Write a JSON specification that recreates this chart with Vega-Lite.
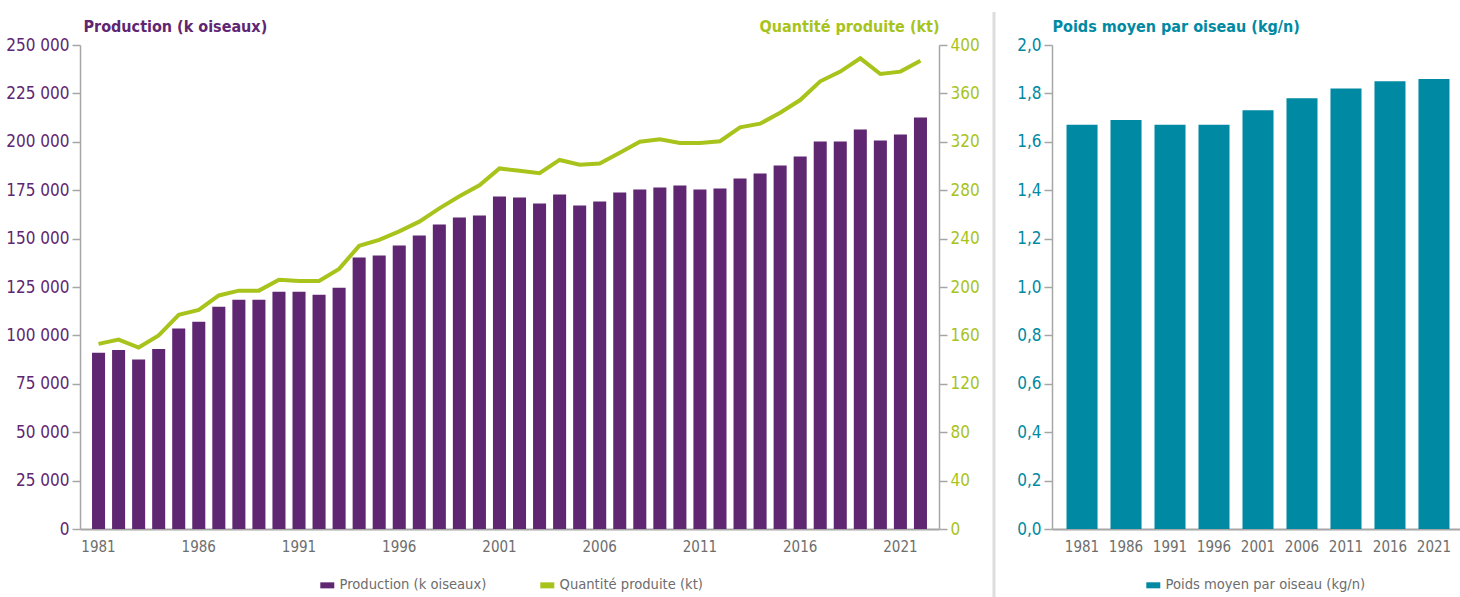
{
  "$schema": "https://vega.github.io/schema/vega-lite/v6.json",
  "padding": {"left": 5, "top": 10, "right": 0, "bottom": 0},
  "datasets": {
    "prod": [
      {"year": 1981, "production": 91000, "quantite": 153},
      {"year": 1982, "production": 92500, "quantite": 156.5},
      {"year": 1983, "production": 87500, "quantite": 150},
      {"year": 1984, "production": 93000, "quantite": 160},
      {"year": 1985, "production": 103500, "quantite": 177},
      {"year": 1986, "production": 107000, "quantite": 181},
      {"year": 1987, "production": 114800, "quantite": 193},
      {"year": 1988, "production": 118400, "quantite": 197},
      {"year": 1989, "production": 118400, "quantite": 197},
      {"year": 1990, "production": 122600, "quantite": 206},
      {"year": 1991, "production": 122600, "quantite": 205},
      {"year": 1992, "production": 121000, "quantite": 205},
      {"year": 1993, "production": 124600, "quantite": 215},
      {"year": 1994, "production": 140200, "quantite": 234},
      {"year": 1995, "production": 141300, "quantite": 239},
      {"year": 1996, "production": 146400, "quantite": 246},
      {"year": 1997, "production": 151600, "quantite": 254},
      {"year": 1998, "production": 157300, "quantite": 265},
      {"year": 1999, "production": 160900, "quantite": 275},
      {"year": 2000, "production": 161900, "quantite": 284},
      {"year": 2001, "production": 171700, "quantite": 298},
      {"year": 2002, "production": 171200, "quantite": 296},
      {"year": 2003, "production": 168100, "quantite": 294},
      {"year": 2004, "production": 172800, "quantite": 305},
      {"year": 2005, "production": 167100, "quantite": 301},
      {"year": 2006, "production": 169100, "quantite": 302},
      {"year": 2007, "production": 173800, "quantite": 311},
      {"year": 2008, "production": 175400, "quantite": 320},
      {"year": 2009, "production": 176400, "quantite": 322},
      {"year": 2010, "production": 177400, "quantite": 319},
      {"year": 2011, "production": 175400, "quantite": 319},
      {"year": 2012, "production": 175900, "quantite": 320.5},
      {"year": 2013, "production": 181000, "quantite": 332},
      {"year": 2014, "production": 183600, "quantite": 335},
      {"year": 2015, "production": 187800, "quantite": 344},
      {"year": 2016, "production": 192400, "quantite": 354.5},
      {"year": 2017, "production": 200200, "quantite": 370},
      {"year": 2018, "production": 200200, "quantite": 378},
      {"year": 2019, "production": 206400, "quantite": 389},
      {"year": 2020, "production": 200700, "quantite": 376},
      {"year": 2021, "production": 203800, "quantite": 378},
      {"year": 2022, "production": 212600, "quantite": 387}
    ],
    "poids": [
      {"year": 1981, "poids": 1.67},
      {"year": 1986, "poids": 1.69},
      {"year": 1991, "poids": 1.67},
      {"year": 1996, "poids": 1.67},
      {"year": 2001, "poids": 1.73},
      {"year": 2006, "poids": 1.78},
      {"year": 2011, "poids": 1.82},
      {"year": 2016, "poids": 1.85},
      {"year": 2021, "poids": 1.86}
    ],
    "divider": [{"p": 0, "a": 0, "b": 106}]
  },
  "hconcat": [
    {
      "width": 859,
      "height": 484,
      "data": {"name": "prod"},
      "encoding": {
        "x": {
          "field": "year", "type": "ordinal",
          "scale": {"paddingInner": 0.35, "paddingOuter": 0.6},
          "axis": {
            "title": null, "values": [1981, 1986, 1991, 1996, 2001, 2006, 2011, 2016, 2021],
            "labelAngle": 0, "ticks": false, "labelPadding": 10, "labelColor": "#6d6d6d",
            "labelFontSize": 15, "domainWidth": 2
          }
        }
      },
      "layer": [
        {
          "mark": {"type": "bar"},
          "encoding": {
            "y": {
              "field": "production", "type": "quantitative",
              "scale": {"domain": [0, 250000]},
              "axis": {
                "orient": "left", "format": ",d",
                "values": [0, 25000, 50000, 75000, 100000, 125000, 150000, 175000, 200000, 225000, 250000],
                "labelColor": "#5f2672", "labelFontSize": 17,
                "title": "Production (k oiseaux)", "titleAngle": 0, "titleAlign": "left",
                "titleBaseline": "alphabetic", "titleX": 3, "titleY": -14,
                "titleColor": "#5f2672", "titleFontSize": 16, "titleFontWeight": "bold"
              }
            },
            "color": {
              "datum": "Production (k oiseaux)",
              "scale": {"domain": ["Production (k oiseaux)", "Quantité produite (kt)"], "range": ["#5f2672", "#a8c31b"]},
              "legend": {
                "orient": "none", "legendX": 240, "legendY": 533, "direction": "horizontal",
                "title": null, "symbolType": "M-1,-0.43H1V0.43H-1Z", "symbolSize": 196,
                "symbolStrokeWidth": 0, "labelFontSize": 14.6, "labelColor": "#6d6d6d",
                "columnPadding": 53, "labelOffset": 5, "labelLimit": 300
              }
            }
          }
        },
        {
          "mark": {"type": "line", "strokeWidth": 4},
          "encoding": {
            "y": {
              "field": "quantite", "type": "quantitative",
              "scale": {"domain": [0, 400]},
              "axis": {
                "orient": "right",
                "values": [0, 40, 80, 120, 160, 200, 240, 280, 320, 360, 400],
                "labelColor": "#a8c31b", "labelFontSize": 17,
                "title": "Quantité produite (kt)", "titleAngle": 0, "titleAlign": "right",
                "titleBaseline": "alphabetic", "titleX": 0, "titleY": -14,
                "titleColor": "#a8c31b", "titleFontSize": 16, "titleFontWeight": "bold"
              }
            },
            "color": {"datum": "Quantité produite (kt)"}
          }
        }
      ],
      "resolve": {"scale": {"y": "independent"}}
    },
    {
      "width": 10,
      "height": 552,
      "data": {"name": "divider"},
      "mark": {"type": "rule", "color": "#dddddd", "strokeWidth": 3},
      "encoding": {
        "x": {"field": "p", "type": "quantitative", "scale": {"domain": [0, 1]}, "axis": null},
        "y": {"field": "a", "type": "quantitative", "scale": {"domain": [0, 100]}, "axis": null},
        "y2": {"field": "b"}
      }
    },
    {
      "width": 412,
      "height": 484,
      "data": {"name": "poids"},
      "mark": {"type": "bar"},
      "encoding": {
        "x": {
          "field": "year", "type": "ordinal",
          "scale": {"paddingInner": 0.295, "paddingOuter": 0.33, "align": 0.5},
          "axis": {"title": null, "labelAngle": 0, "ticks": false, "labelPadding": 10,
                   "labelColor": "#6d6d6d", "labelFontSize": 15, "domainWidth": 2}
        },
        "y": {
          "field": "poids", "type": "quantitative",
          "scale": {"domain": [0, 2]},
          "axis": {
            "format": ".1f", "values": [0, 0.2, 0.4, 0.6, 0.8, 1.0, 1.2, 1.4, 1.6, 1.8, 2.0],
            "labelColor": "#0089a2", "labelFontSize": 17,
            "title": "Poids moyen par oiseau (kg/n)", "titleAngle": 0, "titleAlign": "left",
            "titleBaseline": "alphabetic", "titleX": 0, "titleY": -14,
            "titleColor": "#0089a2", "titleFontSize": 16, "titleFontWeight": "bold"
          }
        },
        "color": {
          "datum": "Poids moyen par oiseau (kg/n)",
          "scale": {"range": ["#0089a2"]},
          "legend": {
            "orient": "none", "legendX": 94, "legendY": 533, "direction": "horizontal",
            "title": null, "symbolType": "M-1,-0.43H1V0.43H-1Z", "symbolSize": 196,
            "symbolStrokeWidth": 0, "labelFontSize": 14.6, "labelColor": "#6d6d6d",
            "labelOffset": 5, "labelLimit": 300
          }
        }
      }
    }
  ],
  "spacing": 12,
  "resolve": {"scale": {"color": "independent"}},
  "config": {
    "font": "DejaVu Sans Condensed, sans-serif",
    "view": {"stroke": null},
    "locale": {"number": {"decimal": ",", "thousands": "\u00a0", "grouping": [3], "currency": ["", " €"]}},
    "axis": {
      "grid": false, "domainColor": "#a6a6a6", "tickColor": "#a6a6a6", "tickSize": 8,
      "tickWidth": 1.5, "domainWidth": 1.5, "labelPadding": 3
    }
  }
}
